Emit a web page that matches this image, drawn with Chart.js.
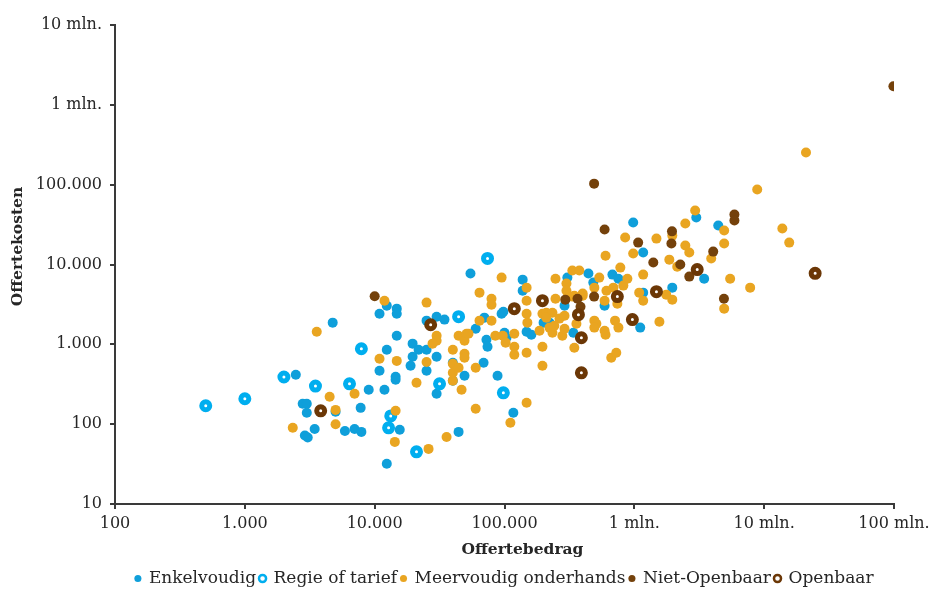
<!DOCTYPE html>
<html><head><meta charset="utf-8">
<script src="https://cdn.jsdelivr.net/npm/chart.js@4.4.1/dist/chart.umd.min.js"></script>
<style>html,body{margin:0;padding:0;background:#fff;} #wrap{width:947px;height:590px;}</style>
</head><body><div id="wrap"><canvas id="c" width="947" height="590"></canvas></div>
<script>
const categories = ['Enkelvoudig','Regie of tarief','Meervoudig onderhands','Niet-Openbaar','Openbaar'];
const xTitle = 'Offertebedrag';
const yTitle = 'Offertekosten';
const xTickValues = [100,1000,10000,100000,1000000,10000000,100000000];
const xTickLabels = ['100','1.000','10.000','100.000','1 mln.','10 mln.','100 mln.'];
const yTickValues = [10,100,1000,10000,100000,1000000,10000000];
const yTickLabels = ['10','100','1.000','10.000','100.000','1 mln.','10 mln.'];

const enkelvoudigX = [2470,2790,3000,3000,2900,3050,3450,4750,5000,5900,7000,7900,7800,9000,11900,10900,12400,14800,10900,12400,14800,14800,14500,14500,15600,12400,19600,21800,25100,30000,19600,18900,25100,25100,30000,34500,54700,60000,70000,95000,98000,69000,88400,49200,72600,74000,100000,103600,148000,161000,138000,138000,40000,30000,40000,44300,117000,200000,210000,305000,443000,678000,754000,483000,290000,590000,339000,1110000,1170000,1960000,3450000,1170000,980000,3000000,4430000,222000];
const enkelvoudigY = [415,180,180,139,72,68,87,1870,143,82,87,80,160,270,270,467,855,1280,2420,3050,2800,2420,392,360,85,32,1020,855,855,700,700,539,467,1980,2220,2040,7700,1570,2160,2420,2560,588,404,404,1140,933,1400,1210,1440,1320,6460,4700,588,240,350,80,139,1870,2280,6850,7700,7470,6640,5930,3050,3050,1400,1620,4440,5130,6640,14100,33600,38800,30800,1870];

const regieX = [500,1000,2000,3500,6400,7900,13300,12800,21000,31600,44300,74000,98000];
const regieY = [170,208,390,300,320,880,127,90,45,320,2220,11900,247];

const meervoudigX = [2340,3580,4500,5000,5000,7000,10900,14800,11900,14500,14300,25100,21000,26000,35800,60000,148000,111000,46700,40000,30000,30000,27900,40000,44300,51000,49200,49200,40000,40000,44300,60000,25100,64200,79400,79400,95000,64200,79400,85000,97000,102000,119000,119000,119000,148000,196000,148000,148000,148000,150000,196000,196000,222000,234000,265000,290000,247000,300000,300000,333000,377000,345000,400000,279000,290000,345000,196000,247000,210000,234000,210000,242000,186000,358000,492000,510000,492000,590000,600000,710000,754000,664000,726000,537000,492000,610000,690000,823000,590000,740000,780000,884000,600000,980000,850000,1170000,1090000,1170000,1480000,1860000,1960000,1760000,2140000,1560000,2470000,2650000,3910000,1960000,2940000,2470000,4920000,4920000,5470000,7800000,4920000,8840000,13800000,15600000,21000000,333000,400000,49200,52800];
const meervoudigY = [90,1440,220,151,100,240,660,620,3520,147,60,3330,330,49,69,156,185,104,270,350,1280,1110,1020,855,1280,1360,760,680,570,440,510,510,600,4440,3730,3140,6850,1980,1980,1280,1280,1050,1360,933,740,785,933,5130,3520,2420,1870,3520,2420,1620,1400,2100,2280,6640,5770,4700,8400,8400,4070,4070,1280,1570,906,539,3730,2490,2490,2160,1710,1480,1810,1980,1810,1620,1480,1320,1980,1620,680,785,6850,5130,4700,5130,5440,3520,3230,9140,6640,12900,13700,21800,7470,4440,3520,21100,11500,3630,4190,9400,1920,17300,14100,11900,23000,47400,32600,26600,18300,6640,5130,2800,87000,28200,18800,253000,3960,4320,1110,1360];

const nietOpenbaarX = [10000,99000000,490000,590000,1070000,1930000,1950000,5900000,5900000,4050000,1400000,2260000,2650000,4900000,294000,365000,385000,490000];
const nietOpenbaarY = [4000,1710000,103000,27400,18800,18300,26000,42300,35600,14500,10600,10000,7050,3730,3630,3730,2960,3960];

const openbaarX = [3840,27000,119000,196000,740000,371000,391000,966000,1480000,3050000,391000,24700000];
const openbaarY = [147,1760,2800,3520,3960,2350,1210,2040,4570,8630,440,7760];

function pts(xs, ys) { return xs.map((x, i) => ({ x: x, y: ys[i] })); }

const FONT = "'DejaVu Serif', serif";
const AXIS = '#3a3a3a';
const TXT = '#262626';

const datasets = [
  { label: categories[0], data: pts(enkelvoudigX, enkelvoudigY), backgroundColor: '#0f9fda', borderColor: '#0f9fda', borderWidth: 0, pointRadius: 5, order: 5, ring: false },
  { label: categories[1], data: pts(regieX, regieY), backgroundColor: '#ffffff', borderColor: '#00aeef', borderWidth: 5, pointRadius: 4, order: 4, ring: true },
  { label: categories[2], data: pts(meervoudigX, meervoudigY), backgroundColor: '#e9a521', borderColor: '#e9a521', borderWidth: 0, pointRadius: 5, order: 3, ring: false },
  { label: categories[3], data: pts(nietOpenbaarX, nietOpenbaarY), backgroundColor: '#74410b', borderColor: '#74410b', borderWidth: 0, pointRadius: 5, order: 2, ring: false },
  { label: categories[4], data: pts(openbaarX, openbaarY), backgroundColor: '#ffffff', borderColor: '#6b3706', borderWidth: 5, pointRadius: 4, order: 1, ring: true }
];

const axisTitles = {
  id: 'axisTitles',
  afterDraw(chart) {
    const { ctx, chartArea: a, scales } = chart;
    ctx.save();
    ctx.fillStyle = TXT;
    ctx.font = "bold 15.5px 'DejaVu Serif'";
    ctx.textAlign = 'center';
    ctx.textBaseline = 'middle';
    ctx.fillText(xTitle, (a.left + a.right) / 2 + 18, scales.x.bottom - 16);
    ctx.translate(18, (a.top + a.bottom) / 2 - 18);
    ctx.rotate(-Math.PI / 2);
    ctx.fillText(yTitle, 0, 0);
    ctx.restore();
  }
};

new Chart(document.getElementById('c'), {
  type: 'scatter',
  data: { datasets: datasets },
  plugins: [axisTitles],
  options: {
    responsive: false,
    animation: false,
    events: [],
    layout: { padding: { left: 8, right: 53, top: 25, bottom: -7 } },
    plugins: {
      tooltip: { enabled: false },
      legend: {
        position: 'bottom',
        fullSize: false,
        labels: {
          usePointStyle: true,
          boxWidth: 5,
          boxHeight: 5,
          padding: 4,
          color: TXT,
          font: { family: FONT, size: 17 },
          sort: (a, b) => a.datasetIndex - b.datasetIndex,
          generateLabels: (chart) => chart.data.datasets.map((ds, i) => ({
            text: ds.label,
            fillStyle: ds.ring ? '#ffffff' : ds.backgroundColor,
            strokeStyle: ds.ring ? ds.borderColor : ds.backgroundColor,
            lineWidth: ds.ring ? 2.5 : 0,
            pointStyle: 'circle',
            datasetIndex: i,
            hidden: false,
            fontColor: TXT
          }))
        }
      }
    },
    scales: {
      x: {
        type: 'logarithmic',
        position: 'bottom',
        min: 100, max: 100000000,
        afterBuildTicks: (s) => { s.ticks = xTickValues.map(v => ({ value: v })); },
        afterFit: (s) => { s.height = 62; },
        ticks: {
          autoSkip: false, maxRotation: 0, padding: 5, color: TXT,
          font: { family: FONT, size: 16 },
          callback: (v) => xTickLabels[Math.round(Math.log10(v)) - 2]
        },
        grid: { drawOnChartArea: false, drawTicks: true, tickLength: 5, color: AXIS, lineWidth: 2 },
        border: { display: true, color: AXIS, width: 2 },
        title: { display: false }
      },
      y: {
        type: 'logarithmic',
        position: 'left',
        min: 10, max: 10000000,
        afterBuildTicks: (s) => { s.ticks = yTickValues.map(v => ({ value: v })); },
        afterFit: (s) => { s.width = 107; },
        ticks: {
          autoSkip: false, padding: 8, color: TXT,
          font: { family: FONT, size: 16 },
          callback: (v) => yTickLabels[Math.round(Math.log10(v)) - 1]
        },
        grid: { drawOnChartArea: false, drawTicks: true, tickLength: 5, color: AXIS, lineWidth: 2 },
        border: { display: true, color: AXIS, width: 2 },
        title: { display: false }
      }
    }
  }
});
</script></body></html>
